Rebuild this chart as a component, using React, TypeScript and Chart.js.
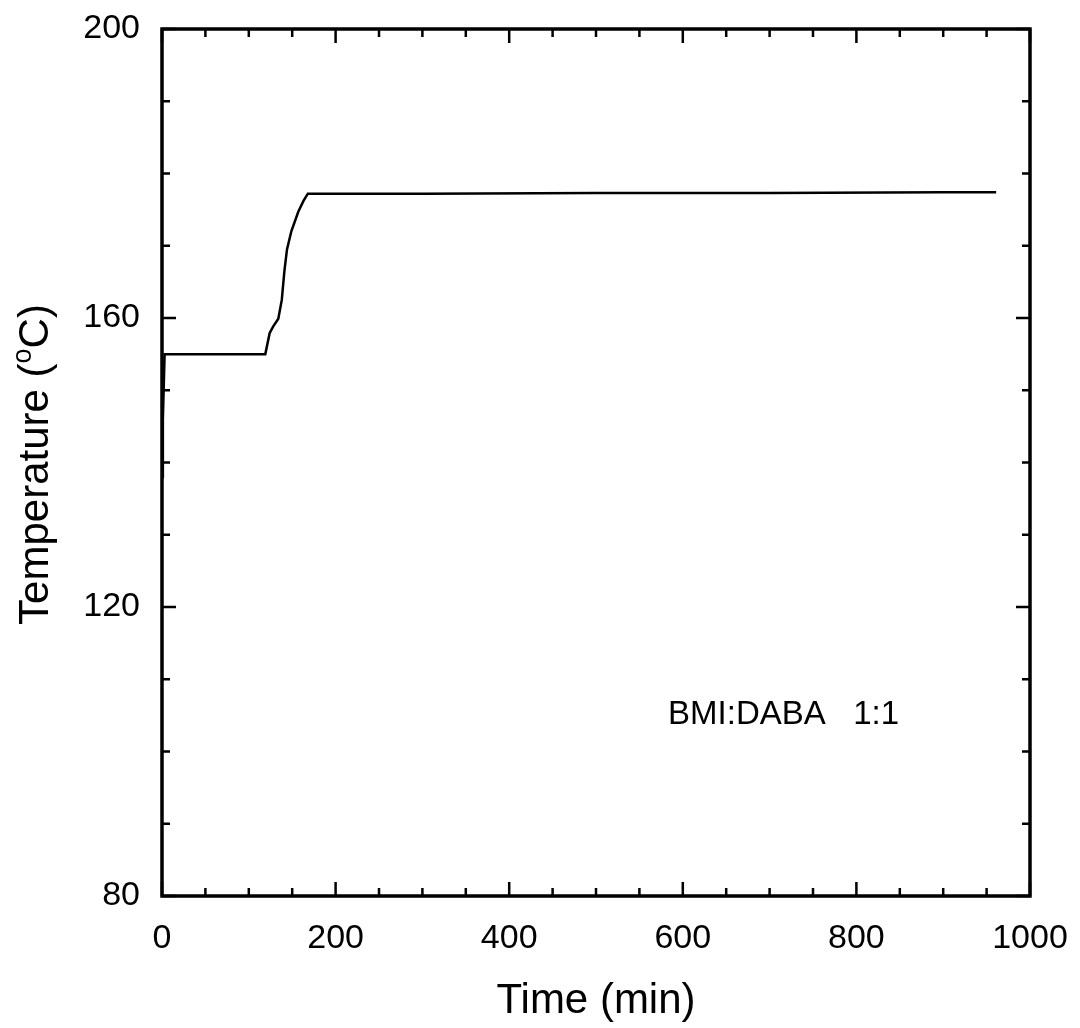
import React, { useEffect, useRef } from "react";
import { Chart, registerables } from "chart.js";

Chart.register(...registerables);

// Time (min) and temperature (°C)
const timeMin: number[] = [0, 1, 3, 5, 60, 119, 124, 128, 134, 138, 141, 144, 149, 157, 163, 168, 300, 500, 700, 900, 961];
const tempC: number[] = [138, 146, 155, 155, 155, 155, 157.9, 158.8, 159.9, 162.5, 166.5, 169.5, 172, 174.7, 176.2, 177.2, 177.2, 177.3, 177.3, 177.4, 177.4];

const xTickValues: number[] = [0, 200, 400, 600, 800, 1000];
const yTickValues: number[] = [80, 120, 160, 200];
const xMinorStep = 50;
const yMinorStep = 10;

const xTitle = "Time (min)";
const yTitleMain = "Temperature (";
const yTitleSup = "o";
const yTitleEnd = "C)";
const annotationText = "BMI:DABA   1:1";
const annotationAt = { x: 583, y: 105 };

const FONT = "'Liberation Sans', Arial, sans-serif";

const framePlugin = {
  id: "frameTicks",
  afterDatasetsDraw(chart: any) {
    const { ctx, chartArea } = chart;
    const xs = chart.scales.x;
    const ys = chart.scales.y;
    const { left, right, top, bottom } = chartArea;
    ctx.save();
    ctx.strokeStyle = "#000";
    ctx.lineWidth = 3.5;
    ctx.strokeRect(left, top, right - left, bottom - top);
    ctx.lineWidth = 2.5;
    ctx.beginPath();
    for (let v = xs.min; v <= xs.max + 1e-6; v += xMinorStep) {
      const major = xTickValues.includes(v);
      const len = major ? 14 : 8;
      const px = xs.getPixelForValue(v);
      ctx.moveTo(px, bottom);
      ctx.lineTo(px, bottom - len);
      ctx.moveTo(px, top);
      ctx.lineTo(px, top + len);
    }
    for (let v = ys.min; v <= ys.max + 1e-6; v += yMinorStep) {
      const major = yTickValues.includes(v);
      const len = major ? 14 : 8;
      const py = ys.getPixelForValue(v);
      ctx.moveTo(left, py);
      ctx.lineTo(left + len, py);
      ctx.moveTo(right, py);
      ctx.lineTo(right - len, py);
    }
    ctx.stroke();
    ctx.fillStyle = "#000";
    ctx.font = `33px ${FONT}`;
    ctx.textAlign = "left";
    ctx.textBaseline = "middle";
    ctx.fillText(annotationText, xs.getPixelForValue(annotationAt.x), ys.getPixelForValue(annotationAt.y));

    // y-axis title with superscript degree "o"
    const mainFont = `42px ${FONT}`;
    const supFont = `27px ${FONT}`;
    ctx.font = mainFont;
    const w1 = ctx.measureText(yTitleMain).width;
    const w3 = ctx.measureText(yTitleEnd).width;
    ctx.font = supFont;
    const w2 = ctx.measureText(yTitleSup).width;
    const total = w1 + w2 + w3;
    const cy = (top + bottom) / 2 + 2;
    ctx.translate(48, cy);
    ctx.rotate(-Math.PI / 2);
    ctx.textBaseline = "alphabetic";
    let x0 = -total / 2;
    ctx.font = mainFont;
    ctx.fillText(yTitleMain, x0, 0);
    x0 += w1;
    ctx.font = supFont;
    ctx.fillText(yTitleSup, x0, -17);
    x0 += w2;
    ctx.font = mainFont;
    ctx.fillText(yTitleEnd, x0, 0);
    ctx.restore();
  },
};

export default function App() {
  const ref = useRef<HTMLCanvasElement | null>(null);
  useEffect(() => {
    if (!ref.current) return;
    const chart = new Chart(ref.current, {
      type: "line",
      data: {
        datasets: [
          {
            data: timeMin.map((t, i) => ({ x: t, y: tempC[i] })),
            borderColor: "#000",
            borderWidth: 2.5,
            pointRadius: 0,
            tension: 0,
            fill: false,
          },
        ],
      },
      options: {
        responsive: false,
        animation: false,
        plugins: { legend: { display: false }, tooltip: { enabled: false } },
        layout: { padding: { top: 29, right: 50, left: 0, bottom: 0 } },
        scales: {
          x: {
            type: "linear",
            min: 0,
            max: 1000,
            afterBuildTicks: (s: any) => {
              s.ticks = xTickValues.map((v) => ({ value: v }));
            },
            afterFit: (s: any) => {
              s.height = 132;
              s.paddingLeft = 0;
              s.paddingRight = 0;
              s.paddingTop = 0;
              s.paddingBottom = 0;
            },
            grid: { display: false, drawTicks: false },
            border: { display: false },
            ticks: {
              color: "#000",
              font: { family: FONT, size: 34 },
              padding: 22,
              maxRotation: 0,
              callback: (v: any) => String(v),
            },
            title: { display: true, text: xTitle, color: "#000", font: { family: FONT, size: 42 }, padding: { top: 0, bottom: 1 } },
          },
          y: {
            type: "linear",
            min: 80,
            max: 200,
            afterBuildTicks: (s: any) => {
              s.ticks = yTickValues.map((v) => ({ value: v }));
            },
            afterFit: (s: any) => {
              s.width = 162;
              s.paddingLeft = 0;
              s.paddingRight = 0;
              s.paddingTop = 0;
              s.paddingBottom = 0;
            },
            grid: { display: false, drawTicks: false },
            border: { display: false },
            ticks: { color: "#000", font: { family: FONT, size: 34 }, padding: 22, callback: (v: any) => String(v) },
            title: { display: false },
          },
        },
      },
      plugins: [framePlugin],
    });
    return () => chart.destroy();
  }, []);
  return (
    <div style={{ position: "absolute", left: 0, top: 0, width: 1080, height: 1028, background: "#fff" }}>
      <canvas ref={ref} width={1080} height={1028} />
    </div>
  );
}
